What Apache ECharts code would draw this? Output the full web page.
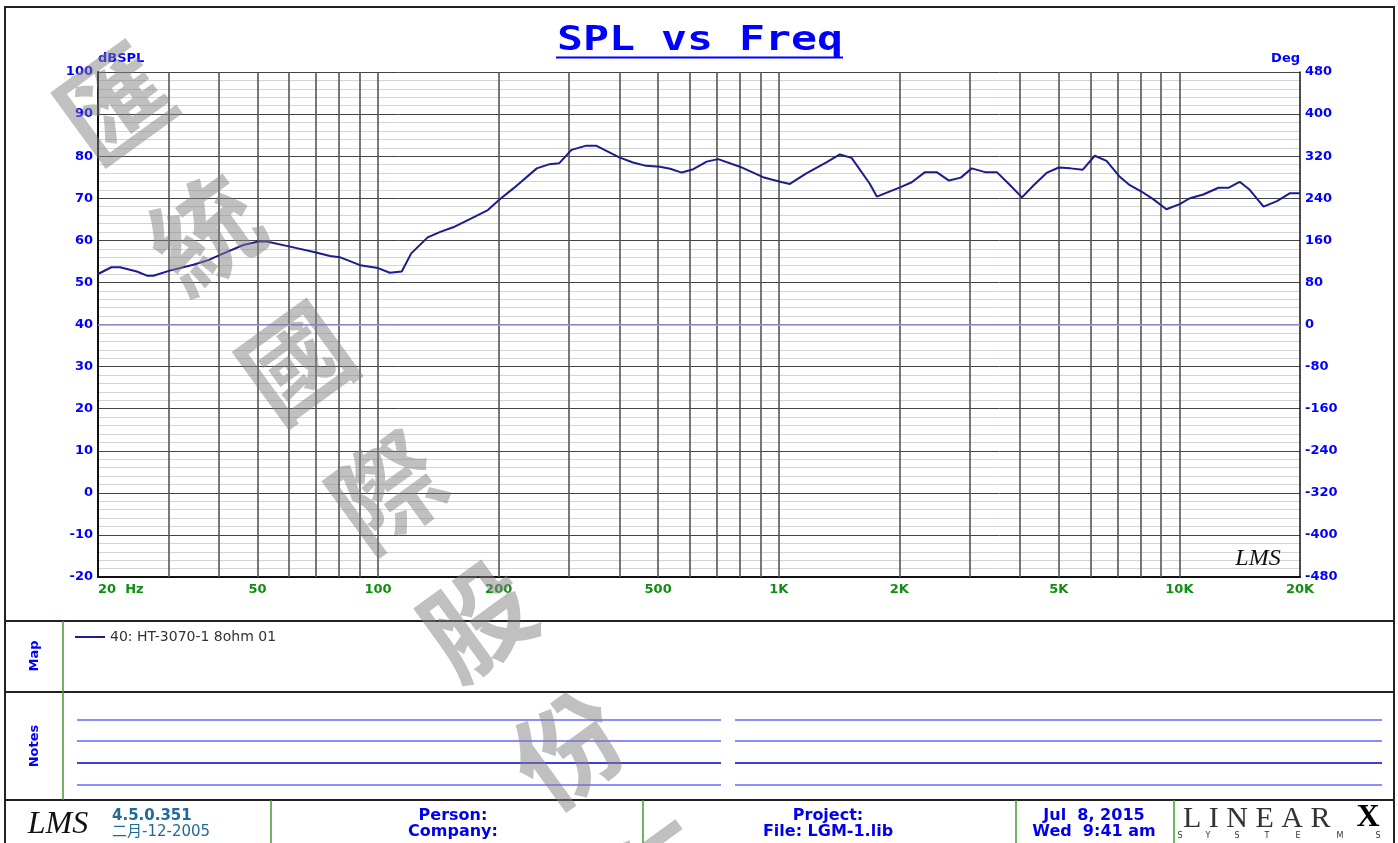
<!DOCTYPE html>
<html><head><meta charset="utf-8">
<script src="https://cdn.jsdelivr.net/npm/echarts@6/dist/echarts.min.js"></script>
<style>html,body{margin:0;padding:0;background:#fff}#c{width:1398px;height:843px}</style>
</head><body><div id="c"></div>
<script>
// ---- data ----
const freqHz = [20,21.6,22.7,25,26.5,27.5,30.2,34.6,37.7,40.2,46.1,50.3,52.7,60.3,70,75.9,80.2,90.2,100,107,114.6,121,133,143,154,169,188,201,218,249,268,283,304,331,350,400,433,467,505,536,573,612,661,706,800,914,1008,1066,1172,1315,1421,1520,1686,1757,2008,2148,2318,2478,2660,2848,3032,3274,3502,3744,4046,4328,4676,5000,5350,5740,6150,6580,7100,7520,8040,8600,9280,10020,10620,11470,12520,13290,14140,14980,16220,17520,18890,20000];
const splDb = [52.0,53.6,53.6,52.6,51.6,51.6,52.8,54.2,55.3,56.5,58.9,59.7,59.7,58.5,57.1,56.3,56.0,54.1,53.4,52.3,52.6,56.9,60.7,62.0,63.1,65.0,67.2,69.7,72.4,77.1,78.1,78.3,81.5,82.5,82.5,79.7,78.5,77.7,77.5,77.0,76.1,76.9,78.7,79.3,77.5,75.0,73.9,73.4,75.9,78.5,80.4,79.6,73.5,70.4,72.6,73.8,76.2,76.2,74.2,74.9,77.1,76.2,76.2,73.5,70.2,73.1,76.1,77.3,77.1,76.8,80.1,78.9,75.1,73.1,71.6,69.8,67.4,68.6,70.0,70.9,72.5,72.5,73.9,72.0,68.0,69.3,71.2,71.2];
const gridFreqs = [30,40,50,60,70,80,90,100,200,300,400,500,600,700,800,900,1000,2000,3000,4000,5000,6000,7000,8000,9000,10000];
const xTickValues = [20,50,100,200,500,1000,2000,5000,10000,20000];
const xTickLabels = ['20  Hz','50','100','200','500','1K','2K','5K','10K','20K'];
const seriesName = '40: HT-3070-1 8ohm 01';
const titleText = 'SPL vs Freq';
const leftAxisName = 'dBSPL';
const rightAxisName = 'Deg';
const zeroPhaseDb = 40;
const watermarkChars = ['匯','統','國','際','股','份','有'];
const footerLeft = ['4.5.0.351','二月-12-2005'];
const footerPerson = ['Person:','Company:'];
const footerProject = ['Project:','File: LGM-1.lib'];
const footerDate = ['Jul  8, 2015','Wed  9:41 am'];

// ---- chart ----
const chart = echarts.init(document.getElementById('c'), null, {renderer:'canvas'});
const FF = 'DejaVu Sans, Verdana, sans-serif';
const BLUE = '#0000ff';
const GREEN_RULE = '#3f9a2f';

const vLineData = [];
const allV = Array.from(new Set(gridFreqs.concat(xTickValues))).sort((a,b)=>a-b);
allV.forEach(f => {
  const li = xTickValues.indexOf(f);
  const isBorder = (f === 20 || f === 20000);
  const item = {
    xAxis: f,
    lineStyle: {color: isBorder ? 'rgba(0,0,0,0)' : '#555', width:1.6, type:'solid'},
    label: {show:false}
  };
  if (li >= 0) {
    item.label = {
      show:true, position:'start', distance:6, formatter: xTickLabels[li],
      color:'#0f8f0f', fontWeight:'bold', fontSize:13, fontFamily:FF,
      align: f === 20 ? 'left' : 'center'
    };
  }
  vLineData.push(item);
});
vLineData.push({yAxis: zeroPhaseDb, lineStyle:{color:'#9c9cff', width:1.5, type:'solid'}, label:{show:false}});

const graphics = [];
// outer frame and section dividers
graphics.push({type:'rect', z:50, shape:{x:5,y:7,width:1389,height:860}, style:{fill:'none', stroke:'#222', lineWidth:2}});
[621,692,800].forEach(y => graphics.push({type:'line', z:50, shape:{x1:5,y1:y,x2:1394,y2:y}, style:{stroke:'#222', lineWidth:2}}));
graphics.push({type:'line', z:50, shape:{x1:63,y1:621,x2:63,y2:800}, style:{stroke:GREEN_RULE, lineWidth:1.5}});
[271,643,1016,1174].forEach(x => graphics.push({type:'line', z:50, shape:{x1:x,y1:800,x2:x,y2:845}, style:{stroke:GREEN_RULE, lineWidth:1.5}}));
// title (stretched horizontally to match the wide lettering)
graphics.push({type:'text', z:50, x:700, y:41, scaleX:1.27, style:{text:titleText, fill:BLUE, font:'bold 34px "DejaVu Sans Mono", monospace', align:'center', verticalAlign:'middle'}});
graphics.push({type:'line', z:50, shape:{x1:556,y1:57.5,x2:843,y2:57.5}, style:{stroke:BLUE, lineWidth:2}});
// side labels
graphics.push({type:'text', z:50, x:35, y:656, rotation:Math.PI/2, style:{text:'Map', fill:BLUE, font:'bold 13px '+FF, align:'center', verticalAlign:'middle'}});
graphics.push({type:'text', z:50, x:35, y:746, rotation:Math.PI/2, style:{text:'Notes', fill:BLUE, font:'bold 13px '+FF, align:'center', verticalAlign:'middle'}});
// notes lines
[[720,'#8c8cff',2],[741,'#8c8cff',2],[763,'#0000cc',1.3],[785,'#8c8cff',2]].forEach(([y,c,w]) => {
  graphics.push({type:'line', z:50, shape:{x1:77,y1:y,x2:721,y2:y}, style:{stroke:c, lineWidth:w}});
  graphics.push({type:'line', z:50, shape:{x1:735,y1:y,x2:1382,y2:y}, style:{stroke:c, lineWidth:w}});
});
// LMS marks
graphics.push({type:'text', z:50, x:1258, y:559, style:{text:'LMS', fill:'#111', font:'italic 24px "Liberation Serif", serif', align:'center', verticalAlign:'middle'}});
graphics.push({type:'text', z:50, x:58, y:825, style:{text:'LMS', fill:'#111', font:'italic 32px "Liberation Serif", serif', align:'center', verticalAlign:'middle'}});
// footer texts
const fy = [816, 832];
footerLeft.forEach((t,i) => graphics.push({type:'text', z:50, x:112, y:fy[i], style:{text:t, fill:'#1f6a9a', font:(i===0?'bold ':'')+'15px DejaVu Sans, "Noto Sans CJK SC", sans-serif', align:'left', verticalAlign:'middle'}}));
footerPerson.forEach((t,i) => graphics.push({type:'text', z:50, x:453, y:fy[i], style:{text:t, fill:'#0000ee', font:'bold 16px '+FF, align:'center', verticalAlign:'middle'}}));
footerProject.forEach((t,i) => graphics.push({type:'text', z:50, x:828, y:fy[i], style:{text:t, fill:'#0000ee', font:'bold 16px '+FF, align:'center', verticalAlign:'middle'}}));
footerDate.forEach((t,i) => graphics.push({type:'text', z:50, x:1094, y:fy[i], style:{text:t, fill:'#0000ee', font:'bold 16px '+FF, align:'center', verticalAlign:'middle'}}));
// LINEARX logo
graphics.push({type:'text', z:50, x:1183, y:819, style:{text:'L I N E A R', fill:'#333', font:'30px "Liberation Serif", serif', align:'left', verticalAlign:'middle'}});
graphics.push({type:'text', z:50, x:1368, y:818, style:{text:'X', fill:'#000', font:'bold 32px "Liberation Serif", serif', align:'center', verticalAlign:'middle'}});
'SYSTEMS'.split('').forEach((ch,i) => {
  const xs = [1180,1208,1237,1267,1298,1340,1378];
  graphics.push({type:'text', z:50, x:xs[i], y:836, style:{text:ch, fill:'#333', font:'8px DejaVu Sans', align:'center', verticalAlign:'middle'}});
});
// watermark
watermarkChars.forEach((ch,i) => {
  graphics.push({type:'text', z:100, x:115 + i*90.6, y:104 + i*129, rotation: 36*Math.PI/180,
    style:{text:ch, fill:'rgba(130,130,130,0.5)', font:'bold 108px "Noto Sans CJK TC", sans-serif', align:'center', verticalAlign:'middle'}});
});

const option = {
  animation:false,
  backgroundColor:'#fff',
  grid:{left:98, right:98, top:72, bottom:266, containLabel:false},
  legend:{show:true, left:75, top:630, padding:0, itemWidth:30, itemHeight:2, icon:'rect', data:[seriesName],
    textStyle:{color:'#333', fontSize:14, fontFamily:FF}},
  xAxis:{type:'log', logBase:10, min:20, max:20000,
    axisLine:{show:true, onZero:false, lineStyle:{color:'#111', width:2}},
    axisTick:{show:false}, axisLabel:{show:false}, splitLine:{show:false}, minorSplitLine:{show:false}},
  yAxis:[
    {type:'value', position:'left', min:-20, max:100, interval:10,
      name:leftAxisName, nameLocation:'end', nameGap:2,
      nameTextStyle:{color:BLUE, fontWeight:'bold', fontSize:13, fontFamily:FF, align:'left', verticalAlign:'middle'},
      axisLine:{show:true, lineStyle:{color:'#111', width:2}}, axisTick:{show:false},
      axisLabel:{color:BLUE, fontWeight:'bold', fontSize:13, fontFamily:FF, margin:5},
      splitLine:{show:true, lineStyle:{color:'#444', width:1}},
      minorTick:{show:false, splitNumber:5},
      minorSplitLine:{show:true, lineStyle:{color:'#d4d4d4', width:1}}},
    {type:'value', position:'right', min:-480, max:480, interval:80,
      name:rightAxisName, nameLocation:'end', nameGap:2,
      nameTextStyle:{color:BLUE, fontWeight:'bold', fontSize:13, fontFamily:FF, align:'right', verticalAlign:'middle'},
      axisLine:{show:true, lineStyle:{color:'#111', width:1.5}}, axisTick:{show:false},
      axisLabel:{color:BLUE, fontWeight:'bold', fontSize:13, fontFamily:FF, margin:5},
      splitLine:{show:false}}
  ],
  series:[
    {name:'grid', type:'line', data:[], z:1, silent:true, legendHoverLink:false,
      markLine:{silent:true, symbol:['none','none'], animation:false, data:vLineData}},
    {name:seriesName, type:'line', yAxisIndex:0, z:5, showSymbol:false, symbol:'none',
      data: freqHz.map((f,i)=>[f, splDb[i]]),
      lineStyle:{color:'#1c1c8c', width:2}, itemStyle:{color:'#1c1c8c'}}
  ],
  graphic: graphics
};
chart.setOption(option);
</script></body></html>
